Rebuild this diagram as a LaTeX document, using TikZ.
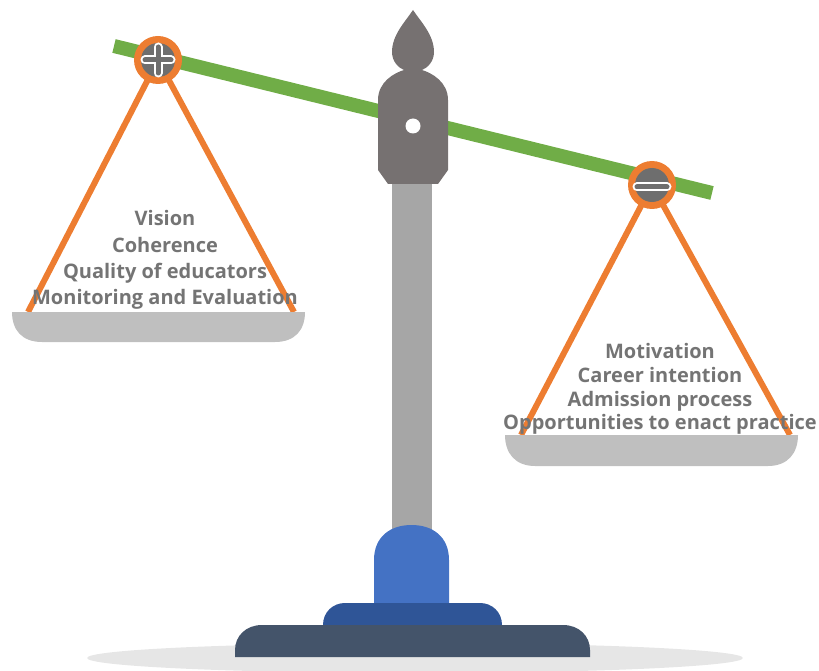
\documentclass[tikz,border=0pt]{standalone}
\usepackage{fontspec}
\setmainfont{Open Sans}
\definecolor{beamgreen}{HTML}{70AD47}
\definecolor{ropeorange}{HTML}{ED7D31}
\definecolor{pangray}{HTML}{BFBFBF}
\definecolor{postgray}{HTML}{A6A6A6}
\definecolor{headgray}{HTML}{767171}
\definecolor{pivotgray}{HTML}{6E6E6E}
\definecolor{pillarblue}{HTML}{4472C4}
\definecolor{stepblue}{HTML}{2F5597}
\definecolor{baseslate}{HTML}{44546A}
\definecolor{shadowgray}{HTML}{E6E6E6}
\definecolor{labelgray}{HTML}{747474}
\begin{document}
\begin{tikzpicture}[x=1pt,y=-1pt,
  rope/.style={ropeorange, line width=6pt},
  pan/.style={fill=pangray},
  itemlist/.style={text=labelgray, align=center, inner sep=0pt},
  leftlist/.style={itemlist, font=\bfseries\fontsize{20}{26.3}\selectfont},
  rightlist/.style={itemlist, font=\bfseries\fontsize{20}{23.7}\selectfont},
  ring/.style={circle, fill=ropeorange, minimum size=48pt, inner sep=0pt},
  pivotcore/.style={circle, fill=pivotgray, minimum size=34pt, inner sep=0pt}]
\useasboundingbox (0,0) rectangle (819,671);

% ground shadow
\fill[shadowgray] (415,658) ellipse [x radius=328, y radius=15];

% beam
\coordinate (beamL) at (114,46);
\coordinate (beamR) at (712,193);
\draw[beamgreen, line width=14pt] (beamL) -- (beamR);

% column
\fill[postgray] (392,175) rectangle (432,545);

% head with finial
\fill[headgray] (413,10) .. controls (405,22) and (392,35) .. (392,52)
  .. controls (392,62) and (399,68) .. (404,70)
  .. controls (394,73) and (378,82) .. (378,100) -- (378,170) -- (388,184)
  -- (438,184) -- (448,170) -- (448,100)
  .. controls (448,82) and (432,73) .. (422,70)
  .. controls (427,68) and (434,62) .. (434,52)
  .. controls (434,35) and (421,22) .. (413,10) -- cycle;
\node[circle, fill=white, minimum size=15pt, inner sep=0pt] (hole) at (413,126) {};

% stand
\fill[pillarblue] (374,606) -- (374,560) .. controls (374,537) and (390,525) .. (411.5,525)
  .. controls (433,525) and (449,537) .. (449,560) -- (449,606) -- cycle;
\fill[stepblue] (323,630) -- (323,625) .. controls (323,612) and (333,603) .. (345,603)
  -- (480,603) .. controls (492,603) and (502,612) .. (502,625) -- (502,630) -- cycle;
\fill[baseslate] (235,657) -- (235,650) .. controls (235,636) and (246,625) .. (262,625)
  -- (563,625) .. controls (579,625) and (590,636) .. (590,650) -- (590,657) -- cycle;

% left pan
\coordinate (lpivot) at (158,60);
\coordinate (lpanL) at (28,312);
\coordinate (lpanR) at (294,312);
\draw[rope] (lpivot) -- (lpanL);
\draw[rope] (lpivot) -- (lpanR);
\fill[pan] (12,312) -- (305,312) .. controls (305,330) and (295,342) .. (275,342)
  -- (42,342) .. controls (22,342) and (12,330) .. (12,312) -- cycle;

% right pan
\coordinate (rpivot) at (652,185);
\coordinate (rpanL) at (521,435);
\coordinate (rpanR) at (790,435);
\draw[rope] (rpivot) -- (rpanL);
\draw[rope] (rpivot) -- (rpanR);
\fill[pan] (505,435) -- (798,435) .. controls (798,453) and (788,466) .. (768,466)
  -- (535,466) .. controls (515,466) and (505,453) .. (505,435) -- cycle;

% pivot badges
\node[ring] (plusring) at (lpivot) {};
\node[pivotcore] (pluscore) at (lpivot) {};
\draw[white, line width=9pt, line cap=round] ([xshift=-13pt]pluscore.center) -- ([xshift=13pt]pluscore.center)
  ([yshift=-13pt]pluscore.center) -- ([yshift=13pt]pluscore.center);
\draw[pivotgray, line width=5pt, line cap=round] ([xshift=-13pt]pluscore.center) -- ([xshift=13pt]pluscore.center)
  ([yshift=-13pt]pluscore.center) -- ([yshift=13pt]pluscore.center);

\node[ring] (minusring) at (rpivot) {};
\node[pivotcore] (minuscore) at (rpivot) {};
\draw[white, line width=9pt, line cap=round] ([xshift=-15pt,yshift=-2pt]minuscore.center) -- ([xshift=15pt,yshift=-2pt]minuscore.center);
\draw[pivotgray, line width=5pt, line cap=round] ([xshift=-15pt,yshift=-2pt]minuscore.center) -- ([xshift=15pt,yshift=-2pt]minuscore.center);

% labels
\node[leftlist] (leftitems) at (165,260) {Vision\\Coherence\\Quality of educators\\Monitoring and Evaluation};
\node[rightlist] (rightitems) at (660,389) {Motivation\\Career intention\\Admission process\\Opportunities to enact practice};
\end{tikzpicture}
\end{document}
